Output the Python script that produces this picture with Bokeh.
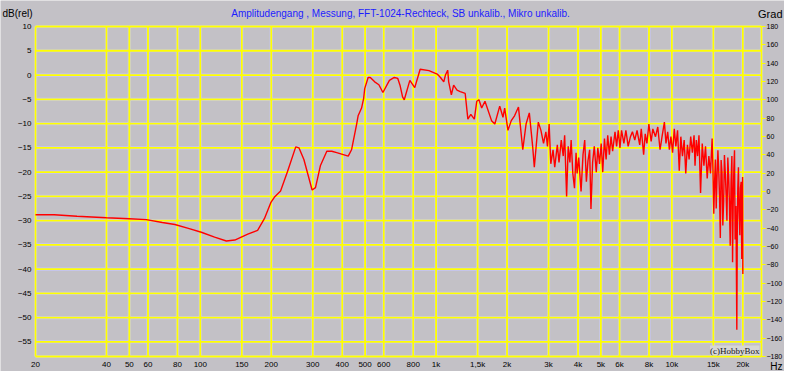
import math
from bokeh.plotting import figure
from bokeh.models import Range1d, LinearAxis, FixedTicker, Label
from bokeh.embed import file_html
from bokeh.resources import INLINE

# ---------------- data ----------------
freq_hz = [
    20, 24, 30, 40, 50, 59, 69, 78, 89, 101, 115, 129, 140, 159, 175, 187,
    199, 206, 219, 234, 254, 262, 275, 298, 308, 323, 344, 361, 379, 424,
    438, 460, 467, 483, 493, 498, 515, 526, 549, 572, 595, 634, 665, 688,
    703, 721, 733, 774, 812, 856, 933, 1011, 1044, 1078, 1096, 1120, 1131,
    1161, 1187, 1227, 1266, 1329, 1364, 1404, 1453, 1488, 1520, 1561, 1612,
    1719, 1775, 1862, 1922, 1954, 2018, 2084, 2152, 2236, 2332, 2408, 2486,
    2568, 2610, 2714, 2784, 2856, 2922, 2968, 3017, 3066, 3134, 3186, 3268,
    3322, 3396, 3462, 3510, 3578, 3634, 3694, 3740, 3802, 3864, 3924, 3964,
    4028, 4120, 4200, 4270, 4340, 4408, 4480, 4538, 4612, 4688, 4780, 4854,
    4934, 5016, 5092, 5178, 5262, 5346, 5432, 5522, 5608, 5740, 5830, 5926,
    6024, 6118, 6260, 6384, 6526, 6674, 6804, 6962, 7118, 7306, 7418, 7592,
    7710, 7838, 7990, 8170, 8304, 8524, 8716, 8912, 9086, 9298, 9442, 9600,
    9760, 9910, 10074, 10240, 10400, 10572, 10748, 10916, 11092, 11278,
    11454, 11642, 11836, 12020, 12218, 12422, 12540, 12700, 12858, 13032,
    13236, 13454, 13676, 13892, 14122, 14354, 14578, 14818, 14940, 15062,
    15180, 15298, 15420, 15550, 15680, 15808, 15930, 16052, 16180, 16318,
    16450, 16586, 16710, 16846, 16980, 17124, 17270, 17410, 17540, 17680,
    17830, 17972, 18092, 18200, 18322, 18440, 18552, 18700, 18860, 18950,
    19040, 19160, 19280, 19420, 19544, 19670, 19790, 19850, 19900, 19950,
    20000,
]
level_db = [
    -28.8, -28.8, -29.1, -29.4, -29.6, -29.8, -30.4, -30.8, -31.6, -32.4,
    -33.4, -34.2, -34.0, -32.8, -32.0, -29.6, -26.3, -25.2, -23.9, -20.0,
    -14.8, -15.0, -17.4, -23.7, -23.2, -18.7, -15.7, -15.7, -16.0, -16.7,
    -15.4, -10.2, -8.4, -6.8, -4.8, -2.8, -0.5, -0.5, -1.4, -2.0, -3.6,
    -1.1, -0.5, -0.7, -2.1, -4.5, -5.1, -1.1, -2.6, 1.2, 0.9, 0.2, -0.5,
    -1.4, 0.0, 1.0, -1.4, -4.1, -2.1, -3.1, -3.4, -3.8, -9.1, -8.1, -9.1,
    -5.4, -5.1, -6.8, -5.4, -9.4, -10.1, -6.4, -8.7, -6.8, -11.4, -9.4,
    -8.4, -6.6, -15.4, -10.1, -7.8, -14.7, -19.0, -9.7, -11.4, -14.1,
    -11.7, -14.7, -10.1, -18.3, -15.4, -19.0, -14.4, -18.0, -13.4, -16.7,
    -12.4, -25.0, -14.7, -18.0, -13.4, -20.3, -23.3, -16.0, -20.3, -17.0,
    -24.0, -16.4, -13.4, -22.0, -17.7, -15.4, -27.6, -18.0, -14.7, -20.0,
    -15.0, -18.3, -14.1, -20.0, -13.1, -17.4, -12.4, -16.4, -12.7, -15.7,
    -11.7, -14.7, -11.4, -15.0, -11.4, -14.1, -11.4, -14.7, -12.7, -11.7,
    -13.4, -11.4, -14.4, -11.1, -16.4, -12.1, -14.1, -10.1, -13.7, -11.1,
    -12.7, -10.7, -15.4, -12.7, -9.7, -14.1, -11.7, -15.4, -12.7, -16.0,
    -11.1, -14.7, -11.4, -19.7, -12.7, -16.7, -13.4, -20.3, -14.4, -17.4,
    -12.7, -16.0, -12.4, -18.7, -13.4, -16.7, -12.4, -24.3, -14.1, -18.7,
    -14.7, -21.3, -16.7, -20.3, -13.1, -19.5, -28.6,
    -22.0, -17.4, -27.5, -20.7, -15.5, -19.7, -25.0, -33.6, -17.5, -20.0,
    -31.0, -26.0, -16.5, -20.0, -24.5, -30.0, -17.0, -20.7, -26.0, -35.2,
    -22.0, -16.7, -38.6, -27.0, -19.3, -15.5, -33.9, -27.0, -52.5, -31.0,
    -23.3, -19.0, -28.0, -33.0, -23.3, -22.0, -37.9, -30.0, -25.3, -21.0,
    -41.0,
]

x_ticks = [20, 40, 50, 60, 80, 100, 150, 200, 300, 400, 500, 600, 800,
           1000, 1500, 2000, 3000, 4000, 5000, 6000, 8000, 10000, 15000, 20000]
x_tick_labels = ["20", "40", "50", "60", "80", "100", "150", "200", "300",
                 "400", "500", "600", "800", "1k", "1,5k", "2k", "3k", "4k",
                 "5k", "6k", "8k", "10k", "15k", "20k"]
db_ticks = [-55, -50, -45, -40, -35, -30, -25, -20, -15, -10, -5, 0, 5, 10]
grad_ticks = [-180, -160, -140, -120, -100, -80, -60, -40, -20, 0,
              20, 40, 60, 80, 100, 120, 140, 160, 180]

title_text = "Amplitudengang , Messung, FFT-1024-Rechteck, SB unkalib., Mikro unkalib."

F_MIN, F_MAX = 20, 24000
DB_MIN, DB_MAX = -58, 10
G_MIN, G_MAX = -180, 180

# ---------------- layout (pixels) ----------------
W, H = 784, 371
PL, PR, PT, PB = 35, 761, 26, 356      # plot box inside the canvas

dec_px = (PR - PL) / (math.log10(F_MAX) - math.log10(F_MIN))
x_start = 10 ** (math.log10(F_MIN) - PL / dec_px)
x_end = 10 ** (math.log10(F_MAX) + (W - PR) / dec_px)
db_px = (PB - PT) / (DB_MAX - DB_MIN)
y_end = DB_MAX + PT / db_px
y_start = DB_MIN - (H - PB) / db_px
g_px = (PB - PT) / (G_MAX - G_MIN)
g_end = G_MAX + PT / g_px
g_start = G_MIN - (H - PB) / g_px

# ---------------- styling ----------------
BG = "#c3c1c6"
YEL = "#ffff00"
LIL = "#c6c6f6"
FONT = "Liberation Sans"

p = figure(width=W, height=H, x_axis_type="log",
           x_range=Range1d(x_start, x_end), y_range=Range1d(y_start, y_end),
           output_backend="svg", toolbar_location=None,
           min_border_left=0, min_border_right=0,
           min_border_top=0, min_border_bottom=0,
           background_fill_color=BG, border_fill_color=BG)
p.outline_line_color = None
p.xgrid.visible = False
p.ygrid.visible = False

# x axis along the bottom of the plot box
xa = p.xaxis[0]
xa.fixed_location = DB_MIN
xa.ticker = FixedTicker(ticks=x_ticks)
xa.major_label_overrides = {t: l for t, l in zip(x_ticks, x_tick_labels)}
xa.major_tick_line_color = None
xa.major_tick_out = 0
xa.major_tick_in = 0
xa.minor_tick_line_color = None
xa.axis_line_color = None
xa.major_label_text_font = FONT
xa.major_label_text_font_size = "8px"
xa.major_label_text_color = "black"
xa.major_label_standoff = 3

# left axis (dB)
ya = p.yaxis[0]
ya.fixed_location = F_MIN
ya.ticker = FixedTicker(ticks=db_ticks)
ya.major_tick_line_color = None
ya.major_tick_out = 0
ya.major_tick_in = 0
ya.minor_tick_line_color = None
ya.axis_line_color = None
ya.major_label_text_font = FONT
ya.major_label_text_font_size = "8px"
ya.major_label_text_color = "black"
ya.major_label_standoff = 4

# right axis (Grad)
p.extra_y_ranges = {"grad": Range1d(g_start, g_end)}
ra = LinearAxis(y_range_name="grad", fixed_location=F_MAX,
                ticker=FixedTicker(ticks=grad_ticks),
                axis_line_color=None,
                major_tick_line_color=YEL, major_tick_line_width=1,
                major_tick_out=4, major_tick_in=0,
                minor_tick_line_color=None,
                major_label_text_font=FONT, major_label_text_font_size="7px",
                major_label_text_color="black",
                major_label_standoff=1)
p.add_layout(ra, "right")

# grid lines limited to the plot box (lilac fringe under yellow)
n_x, n_y = len(x_ticks), len(db_ticks)
for col, wid in ((LIL, 3.2), (YEL, 1.8)):
    p.segment(x0=x_ticks + [F_MAX], y0=[DB_MIN] * (n_x + 1),
              x1=x_ticks + [F_MAX], y1=[DB_MAX] * (n_x + 1),
              line_color=col, line_width=wid)
    p.segment(x0=[F_MIN] * (n_y + 1), y0=db_ticks + [DB_MIN],
              x1=[F_MAX] * (n_y + 1), y1=db_ticks + [DB_MIN],
              line_color=col, line_width=wid)

# curve
p.line(freq_hz, level_db, line_color="#ff0000", line_width=1.4)

# texts (screen units from the lower-left corner of the canvas)
TY = H - 13
p.add_layout(Label(x=(PL + PR) / 2 + 2, y=TY, x_units="screen", y_units="screen",
                   text=title_text, text_align="center", text_baseline="middle",
                   text_font=FONT, text_font_size="10px", text_color="#1c1cff"))
p.add_layout(Label(x=2, y=TY, x_units="screen", y_units="screen",
                   text="dB(rel)", text_align="left", text_baseline="middle",
                   text_font=FONT, text_font_size="10px", text_color="black"))
p.add_layout(Label(x=W - 2, y=TY, x_units="screen", y_units="screen",
                   text="Grad", text_align="right", text_baseline="middle",
                   text_font=FONT, text_font_size="11px", text_color="black"))
p.add_layout(Label(x=W - 2, y=5, x_units="screen", y_units="screen",
                   text="Hz", text_align="right", text_baseline="middle",
                   text_font=FONT, text_font_size="10px", text_color="black"))
p.add_layout(Label(x=F_MAX, y=DB_MIN, x_offset=-2, y_offset=1,
                   text="(c)HobbyBox", text_align="right", text_baseline="bottom",
                   text_font="Liberation Serif", text_font_size="9px",
                   text_color="#202020", background_fill_color="#d6d6d6",
                   border_line_color=None))

open("out.html", "w").write(file_html(p, INLINE))
